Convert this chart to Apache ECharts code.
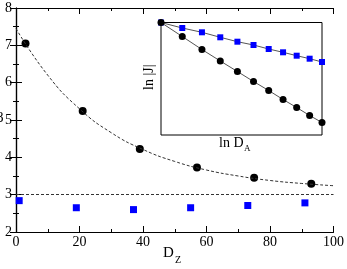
<!DOCTYPE html>
<html>
<head>
<meta charset="utf-8">
<script src="https://cdn.jsdelivr.net/npm/echarts@6/dist/echarts.min.js"></script>
<style>
	html, body { margin: 0; padding: 0; background: #fff; }
	#chart { width: 347px; height: 269px; }
</style>
</head>
<body>
<div id="chart"></div>
<script>
/* ---------------------------------------------
     Data
--------------------------------------------- */
const dz = [3, 21, 39, 57, 75, 93];
const dzValues = [7.05, 5.24, 4.22, 3.73, 3.45, 3.29];
const dzSquare = [1, 19, 37, 55, 73, 91];
const dzSquareValues = [2.84, 2.65, 2.6, 2.65, 2.71, 2.78];
const fitX = [0, 10, 20, 30, 40, 50, 60, 70, 80, 90, 100];
const fitY = [7.45, 6.2, 5.3, 4.66, 4.21, 3.89, 3.66, 3.5, 3.38, 3.3, 3.24];
const refLevel = 3;

// inset: ln|J| vs ln D_A
const da = [12, 13, 14, 15, 16, 17, 18, 19, 20, 21, 22];
const lnJCircle = [0, -0.14, -0.27, -0.385, -0.49, -0.59, -0.68, -0.77, -0.85, -0.93, -1.0];
const lnJSquare = [0, -0.055, -0.098, -0.148, -0.192, -0.225, -0.265, -0.298, -0.332, -0.362, -0.395];

const xTicks = ['0', '20', '40', '60', '80', '100'];

/* ---------------------------------------------
     Chart
--------------------------------------------- */
const serif = '"Liberation Serif", "DejaVu Serif", serif';
const chart = echarts.init(document.getElementById('chart'));

const axisLine = { show: true, lineStyle: { color: '#000', width: 1.2 } };
const tickIn = { show: true, inside: true, length: 6, lineStyle: { color: '#000' } };
const minorIn = { show: true, splitNumber: 2, length: 3, lineStyle: { color: '#000' } };
const hidden = { show: false };

function pair(xs, ys) {
	return xs.map((x, i) => [x, ys[i]]);
}

const option = {
	animation: false,
	backgroundColor: '#fff',
	grid: [
		{ left: 16, top: 8, right: 10, bottom: 37 },
		{
			left: 161, top: 22.5, right: 25, bottom: 134,
			show: true, borderColor: '#000', borderWidth: 1, backgroundColor: '#fff', z: 5,
		},
	],
	xAxis: [
		{
			type: 'value', gridIndex: 0, min: 0, max: 100, interval: 20,
			axisLine, axisTick: tickIn, minorTick: minorIn, splitLine: hidden,
			axisLabel: {
				color: '#000', fontFamily: serif, fontSize: 14, margin: 3,
				formatter: (v) => xTicks[v / 20],
			},
		},
		{
			type: 'value', gridIndex: 0, position: 'top', min: 0, max: 100, interval: 20,
			axisLine, axisTick: tickIn, minorTick: minorIn, splitLine: hidden, axisLabel: hidden,
		},
		{
			type: 'log', gridIndex: 1, min: 12, max: 22,
			axisLine: hidden, axisTick: hidden, axisLabel: hidden, splitLine: hidden,
		},
	],
	yAxis: [
		{
			type: 'value', gridIndex: 0, min: 2, max: 8, interval: 1,
			axisLine, axisTick: tickIn, minorTick: minorIn, splitLine: hidden,
			axisLabel: { color: '#000', fontFamily: serif, fontSize: 14, margin: 4 },
		},
		{
			type: 'value', gridIndex: 0, position: 'right', min: 2, max: 8, interval: 1,
			axisLine, axisTick: tickIn, minorTick: minorIn, splitLine: hidden, axisLabel: hidden,
		},
		{
			type: 'value', gridIndex: 1, min: -1.125, max: 0,
			axisLine: hidden, axisTick: hidden, axisLabel: hidden, splitLine: hidden,
		},
	],
	series: [
		{
			type: 'line',
			xAxisIndex: 0,
			yAxisIndex: 0,
			data: pair(fitX, fitY),
			smooth: true,
			showSymbol: false,
			lineStyle: { color: '#333', width: 1, type: [3, 2] },
			markLine: {
				silent: true,
				symbol: 'none',
				label: hidden,
				lineStyle: { color: '#333', width: 1, type: [3, 2] },
				data: [{ yAxis: refLevel }],
			},
		},
		{
			type: 'scatter',
			xAxisIndex: 0,
			yAxisIndex: 0,
			data: pair(dz, dzValues),
			symbol: 'circle',
			symbolSize: 8,
			itemStyle: { color: '#000', opacity: 1 },
		},
		{
			type: 'scatter',
			xAxisIndex: 0,
			yAxisIndex: 0,
			data: pair(dzSquare, dzSquareValues),
			symbol: 'rect',
			symbolSize: 7,
			itemStyle: { color: '#0000ff', opacity: 1 },
		},
		{
			type: 'line',
			xAxisIndex: 2,
			yAxisIndex: 2,
			z: 6,
			clip: false,
			data: pair(da, lnJSquare),
			symbol: 'rect',
			symbolSize: 6,
			itemStyle: { color: '#0000ff', opacity: 1 },
			lineStyle: { color: '#555', width: 1 },
		},
		{
			type: 'line',
			xAxisIndex: 2,
			yAxisIndex: 2,
			z: 7,
			clip: false,
			data: pair(da, lnJCircle),
			symbol: 'circle',
			symbolSize: 7,
			itemStyle: { color: '#000', opacity: 1 },
			lineStyle: { color: '#555', width: 1 },
		},
	],
	graphic: [
		{ type: 'text', left: -4, top: 111, style: { text: 'β', font: `15px ${serif}`, fill: '#000' } },
		{ type: 'text', left: 163, top: 246, style: { text: 'D', font: `15px ${serif}`, fill: '#000' } },
		{ type: 'text', left: 175, top: 255, style: { text: 'Z', font: `10px ${serif}`, fill: '#000' } },
		{ type: 'text', left: 219, top: 136, z: 10, style: { text: 'ln D', font: `14px ${serif}`, fill: '#000' } },
		{ type: 'text', left: 244, top: 144, z: 10, style: { text: 'A', font: `9px ${serif}`, fill: '#000' } },
		{
			type: 'text', x: 142, y: 90, rotation: Math.PI / 2, z: 10,
			style: { text: 'ln |J|', font: `14px ${serif}`, fill: '#000' },
		},
	],
};

chart.setOption(option);
</script>
</body>
</html>
